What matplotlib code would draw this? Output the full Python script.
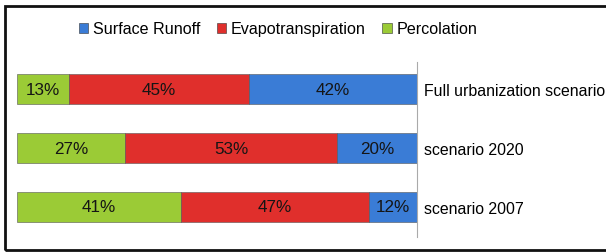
import matplotlib.pyplot as plt
from matplotlib.patches import Rectangle, Patch

plt.rcParams['font.family'] = 'Liberation Sans'

### Data ---------------------------------------------------------------------

scenarios = ['scenario 2007', 'scenario 2020', 'Full urbanization scenario']
percolation = [41, 27, 13]
evapotranspiration = [47, 53, 45]
surface_runoff = [12, 20, 42]

col_perc = '#9BCB36'
col_evap = '#E02F2C'
col_run = '#3A7CD6'

### Plot ---------------------------------------------------------------------

fig = plt.figure(figsize=(6.06, 2.53), dpi=100)
ax = fig.add_axes([17/606, 1 - 238/253, 400/606, 175/253])

pos = range(len(scenarios))
h = 0.51
left = [0]*len(scenarios)
for vals, col in ((percolation, col_perc), (evapotranspiration, col_evap), (surface_runoff, col_run)):
	bars = ax.barh(pos, vals, left=left, height=h, color=col, edgecolor='#555555', linewidth=0.4)
	for b, v in zip(bars, vals):
		ax.text(b.get_x() + b.get_width()/2, b.get_y() + b.get_height()/2, '%d%%' % v,
			ha='center', va='center', fontsize=12.3, color='#151515')
	left = [l + v for l, v in zip(left, vals)]

ax.set_xlim(0, 100)
ax.set_ylim(-0.51, 2.46)
ax.yaxis.tick_right()
ax.set_yticks(list(pos))
ax.set_yticklabels(scenarios, fontsize=11.4)
ax.tick_params(axis='y', length=0, pad=5)
ax.set_xticks([])
for s in ('top', 'left', 'bottom'):
	ax.spines[s].set_visible(False)
ax.spines['right'].set_color('#aaaaaa')
ax.spines['right'].set_linewidth(0.8)

handles = [Patch(facecolor=col_run, edgecolor='#333333', linewidth=0.4),
	Patch(facecolor=col_evap, edgecolor='#333333', linewidth=0.4),
	Patch(facecolor=col_perc, edgecolor='#333333', linewidth=0.4)]
fig.legend(handles, ['Surface Runoff', 'Evapotranspiration', 'Percolation'],
	loc='center', bbox_to_anchor=(278/606, 1 - 30/253), ncol=3, frameon=False,
	fontsize=11.6, handlelength=0.6, handleheight=0.6, handletextpad=0.3, columnspacing=1.0)

# outer frame
fig.patches.append(Rectangle((4.5/606, 2.5/253), 1.2, 244/253, transform=fig.transFigure,
	fill=False, edgecolor='#111111', linewidth=2))

plt.savefig('out.png', dpi=100)
